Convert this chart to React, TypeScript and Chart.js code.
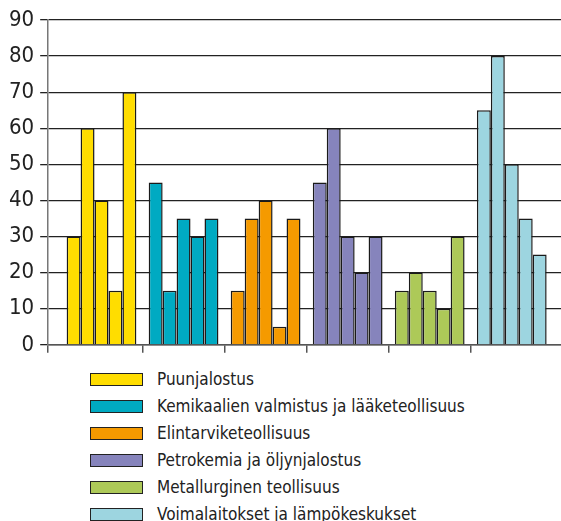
import React, { useEffect, useRef } from "react";
import { Chart, registerables } from "chart.js";

Chart.register(...registerables);

const industries = [
  "Puunjalostus",
  "Kemikaalien valmistus ja lääketeollisuus",
  "Elintarviketeollisuus",
  "Petrokemia ja öljynjalostus",
  "Metallurginen teollisuus",
  "Voimalaitokset ja lämpökeskukset",
];
const industryColors = ["#FFDD00", "#00AAC2", "#F59A00", "#8684BC", "#ADC958", "#9DD5E0"];

const puunjalostus = [30, 60, 40, 15, 70];
const kemikaalit = [45, 15, 35, 30, 35];
const elintarvike = [15, 35, 40, 5, 35];
const petrokemia = [45, 60, 30, 20, 30];
const metallurgia = [15, 20, 15, 10, 30];
const voimalaitokset = [65, 80, 50, 35, 25];

const seriesValues = [puunjalostus, kemikaalit, elintarvike, petrokemia, metallurgia, voimalaitokset];
const barsPerGroup = 5;
const yTicks = [0, 10, 20, 30, 40, 50, 60, 70, 80, 90];
const xMin = -0.65;
const xMax = 5.6;
const xTickValues = [xMin, 0.5, 1.5, 2.5, 3.5, 4.5];

const FONT = "'DejaVu Sans Condensed', 'DejaVu Sans', sans-serif";

export default function App() {
  const ref = useRef<HTMLCanvasElement | null>(null);

  useEffect(() => {
    if (!ref.current) return;
    const datasets = Array.from({ length: barsPerGroup }, (_, j) => ({
      label: "sarja " + (j + 1),
      data: seriesValues.map((vals, i) => ({ x: i, y: vals[j] })),
      backgroundColor: industryColors,
      borderColor: "#1a1a1a",
      borderWidth: 1.5,
      barPercentage: 1.0,
      categoryPercentage: 0.85,
    }));
    const chart = new Chart(ref.current, {
      type: "bar",
      data: { datasets },
      options: {
        animation: false,
        responsive: false,
        layout: { padding: { top: 20, left: 3, right: 0, bottom: 0 } },
        plugins: { legend: { display: false }, tooltip: { enabled: false } },
        scales: {
          x: {
            type: "linear",
            min: xMin,
            max: xMax,
            offset: false,
            afterBuildTicks: (s: any) => {
              s.ticks = xTickValues.map((v) => ({ value: v }));
            },
            ticks: { display: false },
            grid: {
              display: true,
              offset: false,
              drawOnChartArea: false,
              drawTicks: true,
              tickLength: 8,
              color: "#555",
              lineWidth: 1.5,
            },
            border: { display: true, color: "#555", width: 1.5 },
          },
          y: {
            min: 0,
            max: 90,
            afterBuildTicks: (s: any) => {
              s.ticks = yTicks.map((v) => ({ value: v }));
            },
            ticks: {
              font: { family: FONT, size: 22 },
              color: "#222",
              padding: 6,
            },
            grid: { color: "#222", lineWidth: 1.3, tickLength: 8 },
            border: { display: true, color: "#777", width: 1.5 },
          },
        },
      },
    });
    return () => chart.destroy();
  }, []);

  return (
    <div
      style={{
        position: "absolute",
        left: 0,
        top: 0,
        width: 561,
        height: 521,
        overflow: "hidden",
        background: "#fff",
      }}
    >
      <canvas ref={ref} width={561} height={364} style={{ position: "absolute", left: 0, top: 0 }} />
      <div style={{ position: "absolute", left: 0, top: 366, width: 561 }}>
        {industries.map((name, i) => (
          <div
            key={name}
            style={{ display: "flex", alignItems: "center", height: 27 }}
          >
            <div
              style={{
                marginLeft: 90,
                width: 53,
                height: 13,
                boxSizing: "border-box",
                border: "1.5px solid #222",
                background: industryColors[i],
              }}
            />
            <span
              style={{
                marginLeft: 14,
                fontFamily: FONT,
                fontSize: 17,
                color: "#222",
                lineHeight: "27px",
                whiteSpace: "nowrap",
              }}
            >
              {name}
            </span>
          </div>
        ))}
      </div>
    </div>
  );
}
